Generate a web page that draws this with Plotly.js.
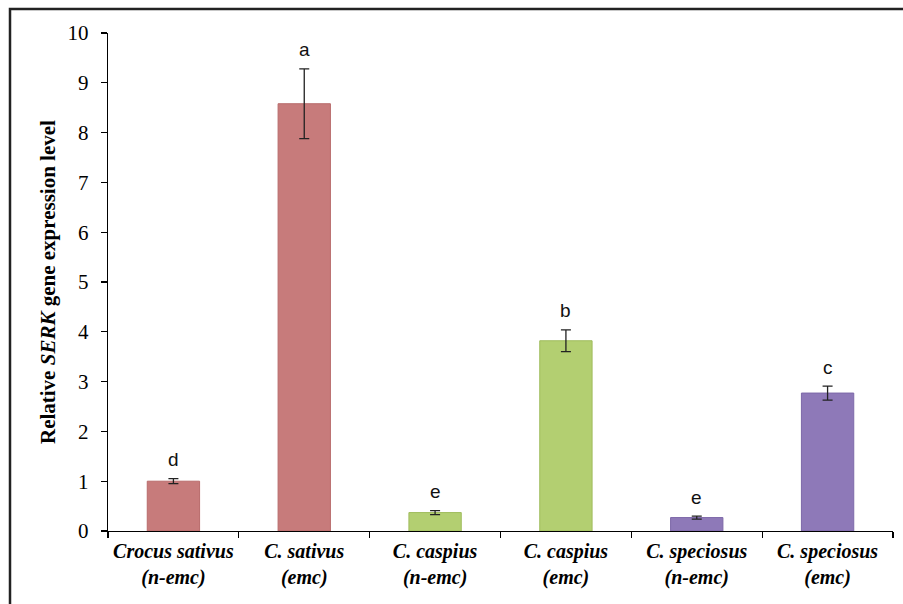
<!DOCTYPE html>
<html>
<head>
<meta charset="utf-8">
<script src="https://cdn.plot.ly/plotly-3.0.1.min.js"></script>
<style>html,body{margin:0;padding:0;background:#fff;}#chart{width:903px;height:604px;}</style>
</head>
<body>
<div id="chart"></div>
<script>
var categories = ["Crocus sativus<br>(n-emc)", "C. sativus<br>(emc)", "C. caspius<br>(n-emc)", "C. caspius<br>(emc)", "C. speciosus<br>(n-emc)", "C. speciosus<br>(emc)"];
var values = [1.0, 8.58, 0.37, 3.82, 0.27, 2.77];
var errors = [0.05, 0.70, 0.04, 0.22, 0.03, 0.14];
var letters = ["d", "a", "e", "b", "e", "c"];
var fillColors = ["#C77B7B", "#C77B7B", "#B3CF71", "#B3CF71", "#8E79B8", "#8E79B8"];
var lineColors = ["#B86B6B", "#B86B6B", "#9FBC5C", "#9FBC5C", "#7D68A8", "#7D68A8"];
var yTicks = [0, 1, 2, 3, 4, 5, 6, 7, 8, 9, 10];

var trace = {
  type: "bar",
  x: categories,
  y: values,
  width: 0.4,
  marker: {color: fillColors, line: {color: lineColors, width: 1}},
  error_y: {type: "data", array: errors, visible: true, color: "#222", thickness: 1.3, width: 5},
  hoverinfo: "none"
};

var annotations = letters.map(function(t, i) {
  return {x: categories[i], y: values[i] + errors[i], xref: "x", yref: "y", text: t, showarrow: false,
    yshift: 19, font: {family: "Liberation Sans, Arial, sans-serif", size: 19, color: "#111"}};
});
annotations.push({
  xref: "paper", yref: "paper", x: -0.0764, y: 0.5, xanchor: "center", yanchor: "middle",
  textangle: -90, showarrow: false,
  text: "<b>Relative <i>SERK</i> gene expression level</b>",
  font: {family: "Liberation Serif, Times New Roman, serif", size: 21, color: "#000"}
});

var layout = {
  width: 903, height: 604,
  margin: {l: 108, r: 10, t: 33, b: 73},
  paper_bgcolor: "#fff", plot_bgcolor: "#fff",
  showlegend: false,
  bargap: 0.6,
  xaxis: {
    type: "category", range: [-0.5, 5.5], showline: true, linecolor: "#000", linewidth: 1.3,
    ticks: "outside", tickson: "boundaries", ticklen: 6, tickcolor: "#000", tickwidth: 1.3,
    showgrid: false, zeroline: false, tickangle: 0, ticklabelstandoff: 2,
    tickfont: {family: "Liberation Serif, Times New Roman, serif", size: 20, color: "#000", weight: "bold", style: "italic"}
  },
  yaxis: {
    range: [0, 10], tickvals: yTicks, ticktext: yTicks.map(String), showline: true, linecolor: "#000", linewidth: 1.3,
    ticks: "outside", ticklen: 6, tickcolor: "#000", tickwidth: 1.3, showgrid: false, zeroline: false,
    ticklabelstandoff: 8,
    tickfont: {family: "Liberation Serif, Times New Roman, serif", size: 21, color: "#000"}
  },
  annotations: annotations,
  shapes: [{
    type: "rect", xref: "paper", yref: "paper",
    x0: (10 - 108) / 785, x1: (910 - 108) / 785,
    y0: (531 - 610) / 498, y1: (531 - 9) / 498,
    line: {color: "#222", width: 2.5}, fillcolor: "rgba(0,0,0,0)", layer: "below"
  }]
};

Plotly.newPlot("chart", [trace], layout, {displayModeBar: false, staticPlot: true});
</script>
</body>
</html>
